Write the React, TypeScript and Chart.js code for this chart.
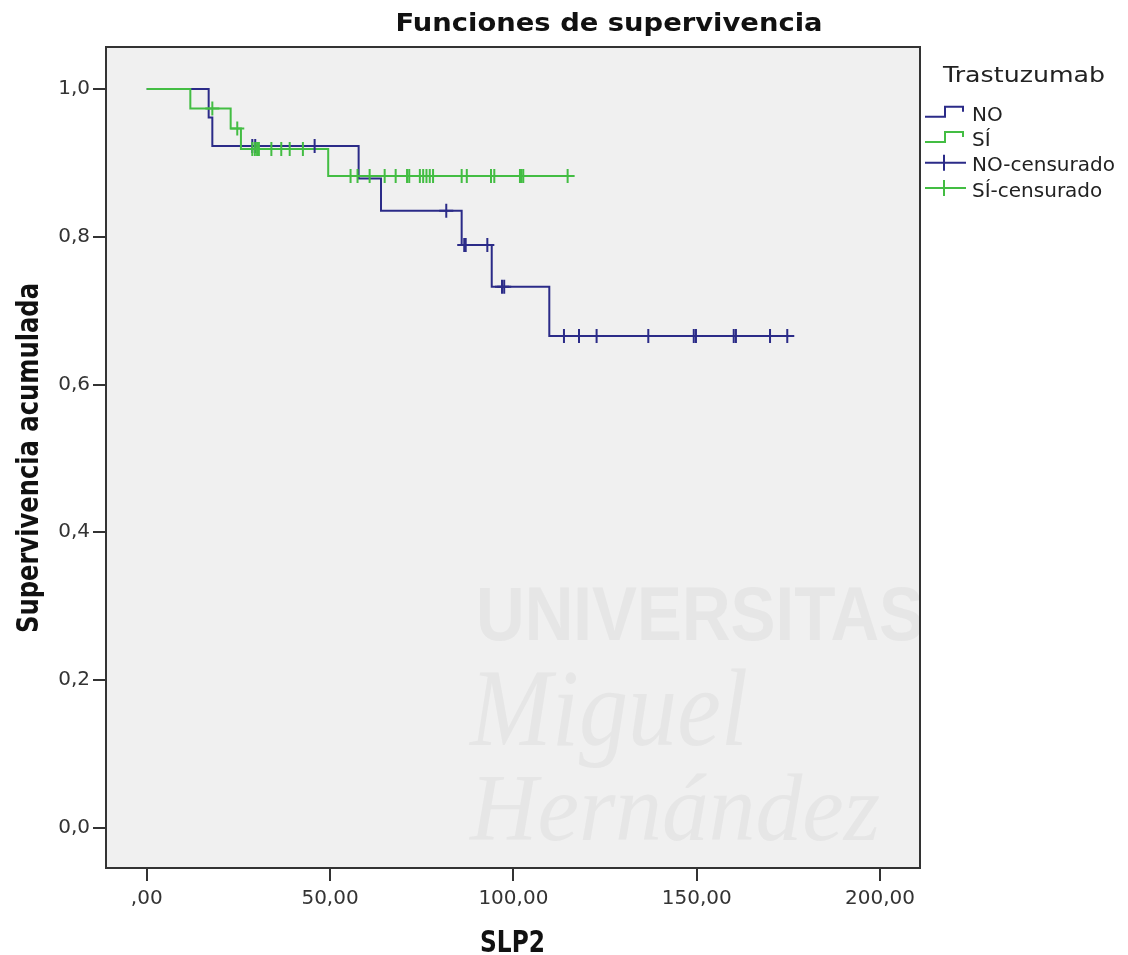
import React, { useEffect, useRef } from "react";
import { Chart, registerables } from "chart.js";

Chart.register(...registerables);

// ---------- data ----------
const seriesNames = ["NO", "SÍ"];
const legendLabels = ["NO", "SÍ", "NO-censurado", "SÍ-censurado"];

// Kaplan-Meier step points (time, cumulative survival) – group NO
const noTimes = [0, 16.9, 17.9, 57.8, 63.9, 85.9, 94.1, 109.8, 174.7];
const noSurvival = [1.0, 0.9615, 0.9231, 0.8791, 0.8352, 0.7888, 0.7324, 0.6658, 0.6658];

// censored observations – group NO
const noCensTimes = [28.8, 29.6, 45.8, 81.7, 86.6, 87.0, 92.9, 96.9, 97.5, 113.8, 117.9, 122.7, 136.8, 149.2, 149.8, 160.1, 160.7, 170.0, 174.7];
const noCensSurvival = [0.9231, 0.9231, 0.9231, 0.8352, 0.7888, 0.7888, 0.7888, 0.7324, 0.7324, 0.6658, 0.6658, 0.6658, 0.6658, 0.6658, 0.6658, 0.6658, 0.6658, 0.6658, 0.6658];

// Kaplan-Meier step points – group SÍ
const siTimes = [0, 11.9, 22.9, 25.7, 49.5, 114.8];
const siSurvival = [1.0, 0.9737, 0.9467, 0.9189, 0.8822, 0.8822];

// censored observations – group SÍ
const siCensTimes = [17.9, 24.7, 28.8, 29.5, 30.1, 30.6, 34.0, 36.7, 39.0, 42.6, 55.6, 57.5, 60.8, 64.9, 67.9, 71.0, 71.6, 74.5, 75.4, 76.3, 77.2, 78.1, 85.9, 87.3, 93.9, 94.8, 101.8, 102.2, 102.7, 114.8];
const siCensSurvival = [0.9737, 0.9467, 0.9189, 0.9189, 0.9189, 0.9189, 0.9189, 0.9189, 0.9189, 0.9189, 0.8822, 0.8822, 0.8822, 0.8822, 0.8822, 0.8822, 0.8822, 0.8822, 0.8822, 0.8822, 0.8822, 0.8822, 0.8822, 0.8822, 0.8822, 0.8822, 0.8822, 0.8822, 0.8822, 0.8822];

const xTickValues = [0, 50, 100, 150, 200];
const yTickValues = [0, 0.2, 0.4, 0.6, 0.8, 1.0];

const titleText = "Funciones de supervivencia";
const xTitle = "SLP2";
const yTitle = "Supervivencia acumulada";
const legendTitle = "Trastuzumab";
const watermarkTexts = ["UNIVERSITAS", "Miguel", "Hernández"];

// ---------- styles ----------
const X_MIN = -11.1;
const X_MAX = 210.9;
const Y_MIN = -0.0546;
const Y_MAX = 1.057;
const NAVY = "#2b2b88";
const GREEN = "#43bd43";
const AXIS = "#333333";
const PLOT_BG = "#f0f0f0";
const colors = [NAVY, GREEN];

const toPoints = (xs: number[], ys: number[]) => xs.map((x, i) => ({ x, y: ys[i] }));

function drawFitted(
  ctx: CanvasRenderingContext2D,
  text: string,
  x: number,
  y: number,
  font: string,
  targetW: number,
  align: CanvasTextAlign,
  rotate = 0
) {
  ctx.save();
  ctx.font = font;
  const w = ctx.measureText(text).width || 1;
  ctx.translate(x, y);
  if (rotate) ctx.rotate(rotate);
  ctx.scale(targetW / w, 1);
  ctx.textAlign = align;
  ctx.textBaseline = "alphabetic";
  ctx.fillText(text, 0, 0);
  ctx.restore();
}

const decorPlugin = {
  id: "decor",
  beforeDraw(chart: any) {
    const { ctx, chartArea: a } = chart;
    ctx.save();
    ctx.fillStyle = "#ffffff";
    ctx.fillRect(0, 0, chart.width, chart.height);
    ctx.fillStyle = PLOT_BG;
    ctx.fillRect(a.left, a.top, a.right - a.left, a.bottom - a.top);
    // faint watermark
    ctx.beginPath();
    ctx.rect(a.left, a.top, a.right - a.left, a.bottom - a.top);
    ctx.clip();
    ctx.fillStyle = "#e6e6e6";
    drawFitted(ctx, watermarkTexts[0], 476, 640, 'bold 76px "Liberation Sans"', 448, "left");
    drawFitted(ctx, watermarkTexts[1], 470, 745, 'italic 110px "Liberation Serif"', 278, "left");
    drawFitted(ctx, watermarkTexts[2], 470, 840, 'italic 96px "Liberation Serif"', 410, "left");
    ctx.restore();
  },
  afterDraw(chart: any) {
    const { ctx, chartArea: a } = chart;
    ctx.save();
    // plot frame
    ctx.strokeStyle = AXIS;
    ctx.lineWidth = 2;
    ctx.strokeRect(a.left, a.top, a.right - a.left, a.bottom - a.top);

    // titles
    ctx.fillStyle = "#111111";
    drawFitted(ctx, titleText, 609, 31, 'bold 25px "DejaVu Sans"', 427, "center");
    drawFitted(ctx, xTitle, 512.5, 952, 'bold 30px "DejaVu Sans"', 65, "center");
    drawFitted(ctx, yTitle, 38, 458, 'bold 30px "DejaVu Sans"', 350, "center", -Math.PI / 2);

    // legend
    ctx.fillStyle = "#222222";
    drawFitted(ctx, legendTitle, 943, 81.7, '21px "DejaVu Sans"', 162, "left");
    const baselines = [120.7, 146, 171.3, 196.6];
    ctx.font = '20px "DejaVu Sans"';
    ctx.textAlign = "left";
    ctx.textBaseline = "alphabetic";
    legendLabels.forEach((lab, i) => {
      ctx.fillStyle = "#222222";
      ctx.fillText(lab, 972, baselines[i]);
    });
    ctx.lineWidth = 2;
    // step icons for the two survival functions
    [0, 1].forEach((i) => {
      const b = baselines[i];
      ctx.strokeStyle = colors[i];
      ctx.beginPath();
      ctx.moveTo(925, b - 4);
      ctx.lineTo(945, b - 4);
      ctx.lineTo(945, b - 14);
      ctx.lineTo(963, b - 14);
      ctx.lineTo(963, b - 9);
      ctx.stroke();
    });
    // cross icons for censored marks
    [2, 3].forEach((i) => {
      const b = baselines[i];
      const c = colors[i - 2];
      ctx.strokeStyle = c;
      ctx.beginPath();
      ctx.moveTo(925, b - 8.5);
      ctx.lineTo(966, b - 8.5);
      ctx.moveTo(944, b - 16.5);
      ctx.lineTo(944, b - 0.5);
      ctx.stroke();
    });
    ctx.restore();
  },
};

export default function App() {
  const ref = useRef<HTMLCanvasElement>(null);

  useEffect(() => {
    if (!ref.current) return;
    const tickFont = { family: "DejaVu Sans", size: 20 };
    const chart = new Chart(ref.current, {
      type: "line",
      data: {
        datasets: [
          {
            label: seriesNames[0],
            data: toPoints(noTimes, noSurvival),
            borderColor: NAVY,
            borderWidth: 2,
            pointRadius: 0,
            stepped: "before",
            fill: false,
            order: 4,
          },
          {
            label: seriesNames[1],
            data: toPoints(siTimes, siSurvival),
            borderColor: GREEN,
            borderWidth: 2,
            pointRadius: 0,
            stepped: "before",
            fill: false,
            order: 3,
          },
          {
            label: legendLabels[2],
            data: toPoints(noCensTimes, noCensSurvival),
            showLine: false,
            pointStyle: "cross",
            pointRadius: 7,
            pointBorderWidth: 2,
            pointBorderColor: NAVY,
            borderColor: NAVY,
            order: 2,
          },
          {
            label: legendLabels[3],
            data: toPoints(siCensTimes, siCensSurvival),
            showLine: false,
            pointStyle: "cross",
            pointRadius: 7,
            pointBorderWidth: 2,
            pointBorderColor: GREEN,
            borderColor: GREEN,
            order: 1,
          },
        ] as any,
      },
      options: {
        animation: false,
        responsive: false,
        maintainAspectRatio: false,
        events: [],
        layout: { padding: { top: 47, right: 208, left: 0, bottom: 0 } },
        plugins: {
          legend: { display: false },
          title: { display: false },
          tooltip: { enabled: false },
        },
        scales: {
          x: {
            type: "linear",
            min: X_MIN,
            max: X_MAX,
            afterBuildTicks: (s: any) => {
              s.ticks = xTickValues.map((v) => ({ value: v }));
            },
            afterFit: (s: any) => {
              s.height = 87;
            },
            ticks: {
              font: tickFont,
              color: AXIS,
              padding: 6,
              maxRotation: 0,
              autoSkip: false,
              callback: (v: any) => (Number(v) === 0 ? ",00" : Number(v).toFixed(2).replace(".", ",")),
            },
            grid: { drawOnChartArea: false, drawTicks: true, tickLength: 13, color: AXIS, lineWidth: 2 },
            border: { display: true, color: AXIS, width: 2 },
          },
          y: {
            type: "linear",
            min: Y_MIN,
            max: Y_MAX,
            afterBuildTicks: (s: any) => {
              s.ticks = yTickValues.map((v) => ({ value: v }));
            },
            afterFit: (s: any) => {
              s.width = 106;
            },
            ticks: {
              font: tickFont,
              color: AXIS,
              padding: 3,
              autoSkip: false,
              callback: (v: any) => Number(v).toFixed(1).replace(".", ","),
            },
            grid: { drawOnChartArea: false, drawTicks: true, tickLength: 13, color: AXIS, lineWidth: 2 },
            border: { display: true, color: AXIS, width: 2 },
          },
        },
      } as any,
      plugins: [decorPlugin],
    });
    return () => chart.destroy();
  }, []);

  return (
    <div style={{ position: "absolute", left: 0, top: 0, width: 1128, height: 955, background: "#fff" }}>
      <canvas ref={ref} width={1128} height={955} style={{ display: "block", width: 1128, height: 955 }} />
    </div>
  );
}
